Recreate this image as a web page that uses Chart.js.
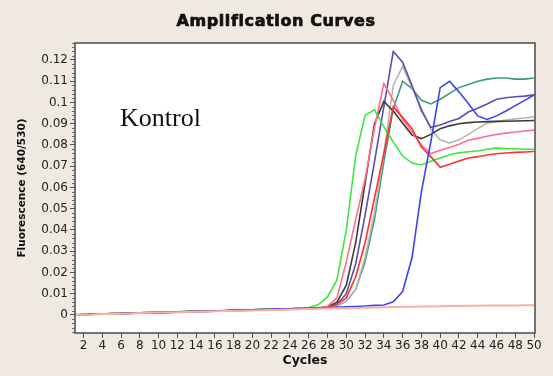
<!DOCTYPE html>
<html>
<head>
<meta charset="utf-8">
<script src="https://cdn.jsdelivr.net/npm/chart.js@4"></script>
<style>
  html, body { margin: 0; padding: 0; background: #EFE9E1; }
  #wrap { width: 553px; height: 376px; }
</style>
</head>
<body>
<div id="wrap"><canvas id="amp" width="553" height="376"></canvas></div>
<script>
// ── 데이터 ─────────────────────────────────────────────
const cycles = [1, 2, 3, 4, 5, 6, 7, 8, 9, 10, 11, 12, 13, 14, 15, 16, 17, 18, 19, 20,
  21, 22, 23, 24, 25, 26, 27, 28, 29, 30, 31, 32, 33, 34, 35, 36, 37, 38, 39, 40,
  41, 42, 43, 44, 45, 46, 47, 48, 49, 50];

const xTicks = [2, 4, 6, 8, 10, 12, 14, 16, 18, 20, 22, 24, 26, 28, 30, 32, 34, 36, 38, 40, 42, 44, 46, 48, 50];
const yTicks = [0, 0.01, 0.02, 0.03, 0.04, 0.05, 0.06, 0.07, 0.08, 0.09, 0.1, 0.11, 0.12];
const yTickLabels = ['0', '0.01', '0.02', '0.03', '0.04', '0.05', '0.06', '0.07', '0.08', '0.09', '0.1', '0.11', '0.12'];

// cycles 1..50
const salmon = [0.0000, 0.0001, 0.0002, 0.0004, 0.0005, 0.0006, 0.0007, 0.0009, 0.0010, 0.0011,
  0.0012, 0.0013, 0.0014, 0.0015, 0.0016, 0.0017, 0.0018, 0.0019, 0.0020, 0.0021,
  0.0022, 0.0023, 0.0024, 0.0026, 0.0027, 0.0028, 0.0029, 0.0030, 0.0031, 0.0032,
  0.0033, 0.0034, 0.0035, 0.0036, 0.0037, 0.0038, 0.0039, 0.0040, 0.0040, 0.0041,
  0.0042, 0.0042, 0.0043, 0.0043, 0.0044, 0.0044, 0.0045, 0.0045, 0.0046, 0.0046];

const green = [0.0001, 0.0002, 0.0003, 0.0004, 0.0006, 0.0007, 0.0008, 0.0010, 0.0011, 0.0012,
  0.0013, 0.0015, 0.0016, 0.0017, 0.0018, 0.0019, 0.0020, 0.0022, 0.0023, 0.0024,
  0.0025, 0.0026, 0.0027, 0.0029, 0.0031, 0.0035, 0.0048, 0.0085, 0.0165, 0.0400,
  0.0750, 0.0940, 0.0965, 0.0886, 0.0814, 0.0748, 0.0715, 0.0706, 0.0723, 0.0739,
  0.0754, 0.0763, 0.0768, 0.0772, 0.0780, 0.0785, 0.0783, 0.0782, 0.0780, 0.0780];

const pink = [0.0000, 0.0001, 0.0003, 0.0004, 0.0005, 0.0006, 0.0007, 0.0009, 0.0010, 0.0011,
  0.0012, 0.0013, 0.0015, 0.0016, 0.0017, 0.0018, 0.0019, 0.0020, 0.0021, 0.0023,
  0.0024, 0.0025, 0.0026, 0.0027, 0.0028, 0.0030, 0.0031, 0.0040, 0.0080, 0.0250,
  0.0450, 0.0640, 0.0880, 0.1090, 0.1010, 0.0920, 0.0861, 0.0800, 0.0760, 0.0775,
  0.0788, 0.0803, 0.0822, 0.0831, 0.0841, 0.0850, 0.0856, 0.0861, 0.0866, 0.0870];

const black = [0.0001, 0.0002, 0.0003, 0.0004, 0.0006, 0.0007, 0.0008, 0.0010, 0.0011, 0.0012,
  0.0013, 0.0015, 0.0016, 0.0017, 0.0018, 0.0019, 0.0020, 0.0022, 0.0023, 0.0024,
  0.0025, 0.0026, 0.0027, 0.0029, 0.0030, 0.0031, 0.0033, 0.0038, 0.0060, 0.0140,
  0.0340, 0.0620, 0.0900, 0.1005, 0.0960, 0.0902, 0.0847, 0.0830, 0.0850, 0.0877,
  0.0890, 0.0900, 0.0905, 0.0908, 0.0910, 0.0911, 0.0912, 0.0913, 0.0914, 0.0915];

const purple = [0.0001, 0.0002, 0.0003, 0.0004, 0.0006, 0.0007, 0.0008, 0.0010, 0.0011, 0.0012,
  0.0013, 0.0015, 0.0016, 0.0018, 0.0019, 0.0020, 0.0021, 0.0022, 0.0023, 0.0024,
  0.0025, 0.0026, 0.0028, 0.0029, 0.0030, 0.0031, 0.0033, 0.0036, 0.0050, 0.0100,
  0.0240, 0.0470, 0.0720, 0.0980, 0.1240, 0.1190, 0.1080, 0.0962, 0.0883, 0.0894,
  0.0910, 0.0925, 0.0955, 0.0973, 0.0993, 0.1015, 0.1022, 0.1027, 0.1030, 0.1036];

const red = [0.0000, 0.0001, 0.0003, 0.0004, 0.0005, 0.0006, 0.0007, 0.0009, 0.0010, 0.0011,
  0.0012, 0.0013, 0.0015, 0.0016, 0.0017, 0.0018, 0.0019, 0.0020, 0.0021, 0.0023,
  0.0024, 0.0025, 0.0026, 0.0027, 0.0028, 0.0030, 0.0031, 0.0035, 0.0050, 0.0080,
  0.0180, 0.0340, 0.0550, 0.0760, 0.0980, 0.0930, 0.0877, 0.0790, 0.0745, 0.0695,
  0.0709, 0.0725, 0.0739, 0.0745, 0.0753, 0.0759, 0.0762, 0.0765, 0.0767, 0.0769];

const grey = [0.0001, 0.0002, 0.0003, 0.0004, 0.0006, 0.0007, 0.0008, 0.0010, 0.0011, 0.0012,
  0.0013, 0.0015, 0.0016, 0.0017, 0.0018, 0.0019, 0.0020, 0.0022, 0.0023, 0.0024,
  0.0025, 0.0026, 0.0027, 0.0029, 0.0030, 0.0031, 0.0033, 0.0035, 0.0045, 0.0065,
  0.0120, 0.0270, 0.0480, 0.0760, 0.1080, 0.1170, 0.1070, 0.0973, 0.0875, 0.0824,
  0.0809, 0.0824, 0.0850, 0.0877, 0.0903, 0.0910, 0.0917, 0.0923, 0.0927, 0.0933];

const teal = [0.0000, 0.0001, 0.0003, 0.0004, 0.0005, 0.0006, 0.0007, 0.0009, 0.0010, 0.0011,
  0.0012, 0.0013, 0.0014, 0.0015, 0.0017, 0.0018, 0.0019, 0.0020, 0.0021, 0.0022,
  0.0024, 0.0025, 0.0026, 0.0027, 0.0028, 0.0030, 0.0031, 0.0033, 0.0042, 0.0065,
  0.0120, 0.0250, 0.0450, 0.0720, 0.0970, 0.1100, 0.1065, 0.1010, 0.0993, 0.1015,
  0.1043, 0.1070, 0.1085, 0.1100, 0.1110, 0.1115, 0.1115, 0.1110, 0.1110, 0.1115];

const blue = [0.0000, 0.0001, 0.0003, 0.0004, 0.0005, 0.0006, 0.0008, 0.0009, 0.0010, 0.0011,
  0.0012, 0.0014, 0.0016, 0.0017, 0.0018, 0.0019, 0.0020, 0.0022, 0.0023, 0.0024,
  0.0025, 0.0026, 0.0028, 0.0029, 0.0030, 0.0031, 0.0032, 0.0034, 0.0036, 0.0038,
  0.0040, 0.0042, 0.0045, 0.0047, 0.0062, 0.0110, 0.0270, 0.0580, 0.0814, 0.1070,
  0.1100, 0.1050, 0.0995, 0.0937, 0.0920, 0.0937, 0.0960, 0.0985, 0.1010, 0.1035];

// ── 스타일 ─────────────────────────────────────────────
const TICK_FONT = { family: "'DejaVu Sans', sans-serif", size: 12 };
const TITLE_FONT = { family: "'DejaVu Sans', sans-serif", size: 12.5, weight: 'bold' };

// 배경 + 플롯 영역 흰색
const bgPlugin = {
  id: 'bg',
  beforeDraw(chart) {
    const { ctx, chartArea: a } = chart;
    ctx.save();
    ctx.fillStyle = '#EFE9E1';
    ctx.fillRect(0, 0, chart.width, chart.height);
    ctx.fillStyle = '#ffffff';
    ctx.fillRect(a.left, a.top, a.right - a.left, a.bottom - a.top);
    ctx.restore();
  },
};

// 제목, 플롯 테두리, y축 보조 눈금, Kontrol 라벨
const framePlugin = {
  id: 'frame',
  afterDraw(chart) {
    const { ctx, chartArea: a } = chart;
    const y = chart.scales.y;
    ctx.save();

    // 굵은 제목 (Arial Black 느낌을 내기 위해 자간 + 외곽선)
    ctx.fillStyle = '#111';
    ctx.strokeStyle = '#111';
    ctx.lineWidth = 0.7;
    ctx.font = "bold 16px 'DejaVu Sans', sans-serif";
    ctx.letterSpacing = '0.6px';
    ctx.textAlign = 'center';
    ctx.textBaseline = 'middle';
    ctx.fillText('Amplification Curves', 276, 22);
    ctx.strokeText('Amplification Curves', 276, 22);
    ctx.letterSpacing = '0px';

    ctx.strokeStyle = '#4a4a4a';
    ctx.lineWidth = 1.5;
    ctx.strokeRect(a.left, a.top, a.right - a.left, a.bottom - a.top);

    ctx.lineWidth = 1;
    ctx.strokeStyle = '#666';
    for (let k = -4; k <= 64; k++) {
      if (k % 5 === 0) continue;
      const py = Math.round(y.getPixelForValue(k * 0.002)) + 0.5;
      if (py < a.top || py > a.bottom) continue;
      ctx.beginPath();
      ctx.moveTo(a.left - 3, py);
      ctx.lineTo(a.left, py);
      ctx.stroke();
    }

    ctx.fillStyle = '#111';
    ctx.font = "26px 'Liberation Serif', 'Times New Roman', serif";
    ctx.textAlign = 'left';
    ctx.textBaseline = 'alphabetic';
    ctx.fillText('Kontrol', 120, 126);
    ctx.restore();
  },
};

function series(label, values, color, width = 1.6) {
  return {
    label,
    data: cycles.map((c, i) => ({ x: c, y: values[i] })),
    borderColor: color,
    borderWidth: width,
    pointRadius: 0,
    tension: 0,
    fill: false,
  };
}

new Chart(document.getElementById('amp'), {
  type: 'line',
  data: {
    datasets: [
      series('salmon', salmon, '#FFB09C', 2),
      series('blue', blue, '#3A44F5'),
      series('red', red, '#FF3030'),
      series('green', green, '#3CE83C'),
      series('pink', pink, '#FF6E8E'),
      series('black', black, '#3A3A3A'),
      series('purple', purple, '#5A4FB0'),
      series('grey', grey, '#B4B8AC'),
      series('teal', teal, '#3D9C78'),
    ],
  },
  options: {
    responsive: false,
    animation: false,
    events: [],
    layout: { padding: { left: 0, right: 18, top: 43, bottom: 0 } },
    plugins: {
      legend: { display: false },
      tooltip: { enabled: false },
      title: { display: false },
    },
    scales: {
      x: {
        type: 'linear',
        min: 1.1,
        max: 50.1,
        afterBuildTicks: (s) => { s.ticks = xTicks.map(v => ({ value: v })); },
        afterFit: (s) => { s.height = 43; },
        ticks: {
          autoSkip: false,
          maxRotation: 0,
          padding: 1,
          color: '#222',
          font: TICK_FONT,
          callback: (v) => String(v),
        },
        grid: { drawOnChartArea: false, tickLength: 5, color: '#555' },
        border: { display: false },
        title: {
          display: true,
          text: 'Cycles',
          color: '#111',
          font: TITLE_FONT,
          padding: { top: 0, bottom: 7.5 },
        },
      },
      y: {
        type: 'linear',
        min: -0.0085,
        max: 0.128,
        afterBuildTicks: (s) => { s.ticks = yTicks.map(v => ({ value: v })); },
        afterFit: (s) => { s.width = 75; },
        ticks: {
          padding: 2,
          color: '#222',
          font: TICK_FONT,
          callback: (v, i) => yTickLabels[i],
        },
        grid: { drawOnChartArea: false, tickLength: 5, color: '#555' },
        border: { display: false },
        title: {
          display: true,
          text: 'Fluorescence (640/530)',
          color: '#111',
          font: { family: "'DejaVu Sans', sans-serif", size: 10.5, weight: 'bold' },
          padding: { top: 15.5, bottom: 0 },
        },
      },
    },
  },
  plugins: [bgPlugin, framePlugin],
});
</script>
</body>
</html>
